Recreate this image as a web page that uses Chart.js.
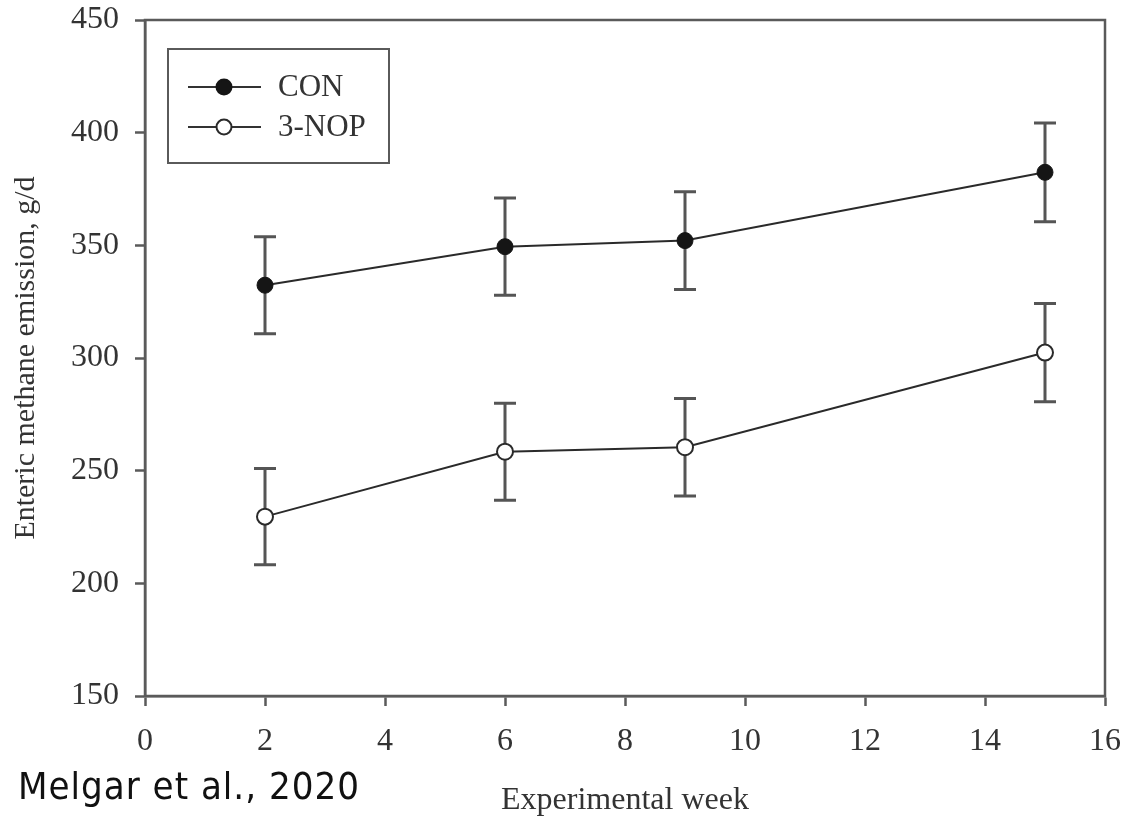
<!DOCTYPE html>
<html>
<head>
<meta charset="utf-8">
<title>Enteric methane emission</title>
<script src="https://cdn.jsdelivr.net/npm/chart.js@4.4.1/dist/chart.umd.min.js"></script>
<style>
  html, body { margin: 0; padding: 0; background: #fff; }
  #wrap { width: 1127px; height: 817px; position: relative; }
</style>
</head>
<body>
<div id="wrap"><canvas id="methaneChart"></canvas></div>
<script>
// weeks sampled and mean emissions (g/d) with SE
const weeks = [2, 6, 9, 15];
const conMeans = [332.3, 349.4, 352.1, 382.4];
const conErr = [21.5, 21.6, 21.7, 21.9];
const nopMeans = [229.6, 258.4, 260.4, 302.4];
const nopErr = [21.4, 21.5, 21.6, 21.8];
const xTicks = [0, 2, 4, 6, 8, 10, 12, 14, 16];
const yTicks = [150, 200, 250, 300, 350, 400, 450];

const axisColor = '#5a5a5a';
const textColor = '#333';
const serif = "'Liberation Serif', 'Times New Roman', serif";

const toPoints = (ys) => weeks.map((w, i) => ({ x: w, y: ys[i] }));

// vertical error bars with caps, drawn under the markers
const errorBars = {
    id: 'errorBars',
    beforeDatasetsDraw(chart) {
        const { ctx, scales: { x, y } } = chart;
        const sets = [[conMeans, conErr], [nopMeans, nopErr]];
        ctx.save();
        ctx.strokeStyle = '#555';
        ctx.lineWidth = 3;
        sets.forEach(([means, errs]) => {
            weeks.forEach((w, i) => {
                const px = x.getPixelForValue(w);
                const top = y.getPixelForValue(means[i] + errs[i]);
                const bot = y.getPixelForValue(means[i] - errs[i]);
                ctx.beginPath();
                ctx.moveTo(px, top); ctx.lineTo(px, bot);
                ctx.moveTo(px - 11, top); ctx.lineTo(px + 11, top);
                ctx.moveTo(px - 11, bot); ctx.lineTo(px + 11, bot);
                ctx.stroke();
            });
        });
        ctx.restore();
    }
};

// closed frame around the plot, boxed legend and source note
const frameAndLegend = {
    id: 'frameAndLegend',
    afterDraw(chart) {
        const { ctx, chartArea: a } = chart;
        ctx.save();
        ctx.strokeStyle = axisColor;
        ctx.lineWidth = 2.5;
        ctx.strokeRect(a.left, a.top, a.right - a.left, a.bottom - a.top);

        // legend
        const lx = a.left + 23, ly = a.top + 29, lw = 221, lh = 114;
        ctx.lineWidth = 2;
        ctx.strokeRect(lx, ly, lw, lh);
        chart.data.datasets.forEach((ds, i) => {
            const cy = ly + 38 + i * 40;
            ctx.strokeStyle = '#333';
            ctx.lineWidth = 2;
            ctx.beginPath();
            ctx.moveTo(lx + 20, cy); ctx.lineTo(lx + 93, cy);
            ctx.stroke();
            ctx.beginPath();
            ctx.arc(lx + 56, cy, 7.5, 0, Math.PI * 2);
            ctx.fillStyle = ds.pointBackgroundColor;
            ctx.fill();
            ctx.lineWidth = 2;
            ctx.strokeStyle = ds.pointBorderColor;
            ctx.stroke();
            ctx.fillStyle = textColor;
            ctx.font = '31px ' + serif;
            ctx.textBaseline = 'middle';
            ctx.textAlign = 'left';
            ctx.fillText(ds.label, lx + 110, cy + 1);
        });

        // source note
        ctx.fillStyle = '#111';
        ctx.font = "38px 'Liberation Sans Narrow', 'DejaVu Sans Condensed', 'Open Sans', sans-serif";
        ctx.letterSpacing = '1px';
        ctx.textBaseline = 'alphabetic';
        ctx.textAlign = 'left';
        ctx.fillText('Melgar et al., 2020', 18, 799);
        ctx.restore();
    }
};

new Chart(document.getElementById('methaneChart'), {
    type: 'line',
    data: {
        datasets: [
            {
                label: 'CON',
                data: toPoints(conMeans),
                borderColor: '#2a2a2a',
                borderWidth: 2,
                pointRadius: 8,
                pointBackgroundColor: '#151515',
                pointBorderColor: '#151515',
                pointBorderWidth: 1,
                tension: 0
            },
            {
                label: '3-NOP',
                data: toPoints(nopMeans),
                borderColor: '#2a2a2a',
                borderWidth: 2,
                pointRadius: 8,
                pointBackgroundColor: '#ffffff',
                pointBorderColor: '#2a2a2a',
                pointBorderWidth: 2,
                tension: 0
            }
        ]
    },
    options: {
        responsive: true,
        maintainAspectRatio: false,
        animation: false,
        layout: { padding: { top: 20, right: 22, left: 0, bottom: 0 } },
        plugins: {
            legend: { display: false },
            tooltip: { enabled: false }
        },
        scales: {
            x: {
                type: 'linear',
                min: 0,
                max: 16,
                afterBuildTicks: (s) => { s.ticks = xTicks.map(v => ({ value: v })); },
                afterFit: (s) => { s.height = 121; s.paddingLeft = 0; s.paddingRight = 0; },
                grid: { drawOnChartArea: false, tickLength: 10, tickWidth: 2.5, tickColor: axisColor },
                border: { color: axisColor, width: 2.5 },
                ticks: { color: textColor, font: { family: serif, size: 32 }, padding: 16, maxRotation: 0 },
                title: {
                    display: true,
                    text: 'Experimental week',
                    color: textColor,
                    font: { family: serif, size: 32, lineHeight: 1 },
                    padding: { top: 0, bottom: 0 }
                }
            },
            y: {
                min: 150,
                max: 450,
                afterBuildTicks: (s) => { s.ticks = yTicks.map(v => ({ value: v })); },
                afterFit: (s) => { s.width = 145; s.paddingTop = 0; s.paddingBottom = 0; },
                grid: { drawOnChartArea: false, tickLength: 10, tickWidth: 2.5, tickColor: axisColor },
                border: { color: axisColor, width: 2.5 },
                ticks: { color: textColor, font: { family: serif, size: 32 }, padding: 16 },
                title: {
                    display: true,
                    text: 'Enteric methane emission, g/d',
                    color: textColor,
                    font: { family: serif, size: 30 },
                    padding: { top: 8, bottom: 0 }
                }
            }
        }
    },
    plugins: [errorBars, frameAndLegend]
});
</script>
</body>
</html>
